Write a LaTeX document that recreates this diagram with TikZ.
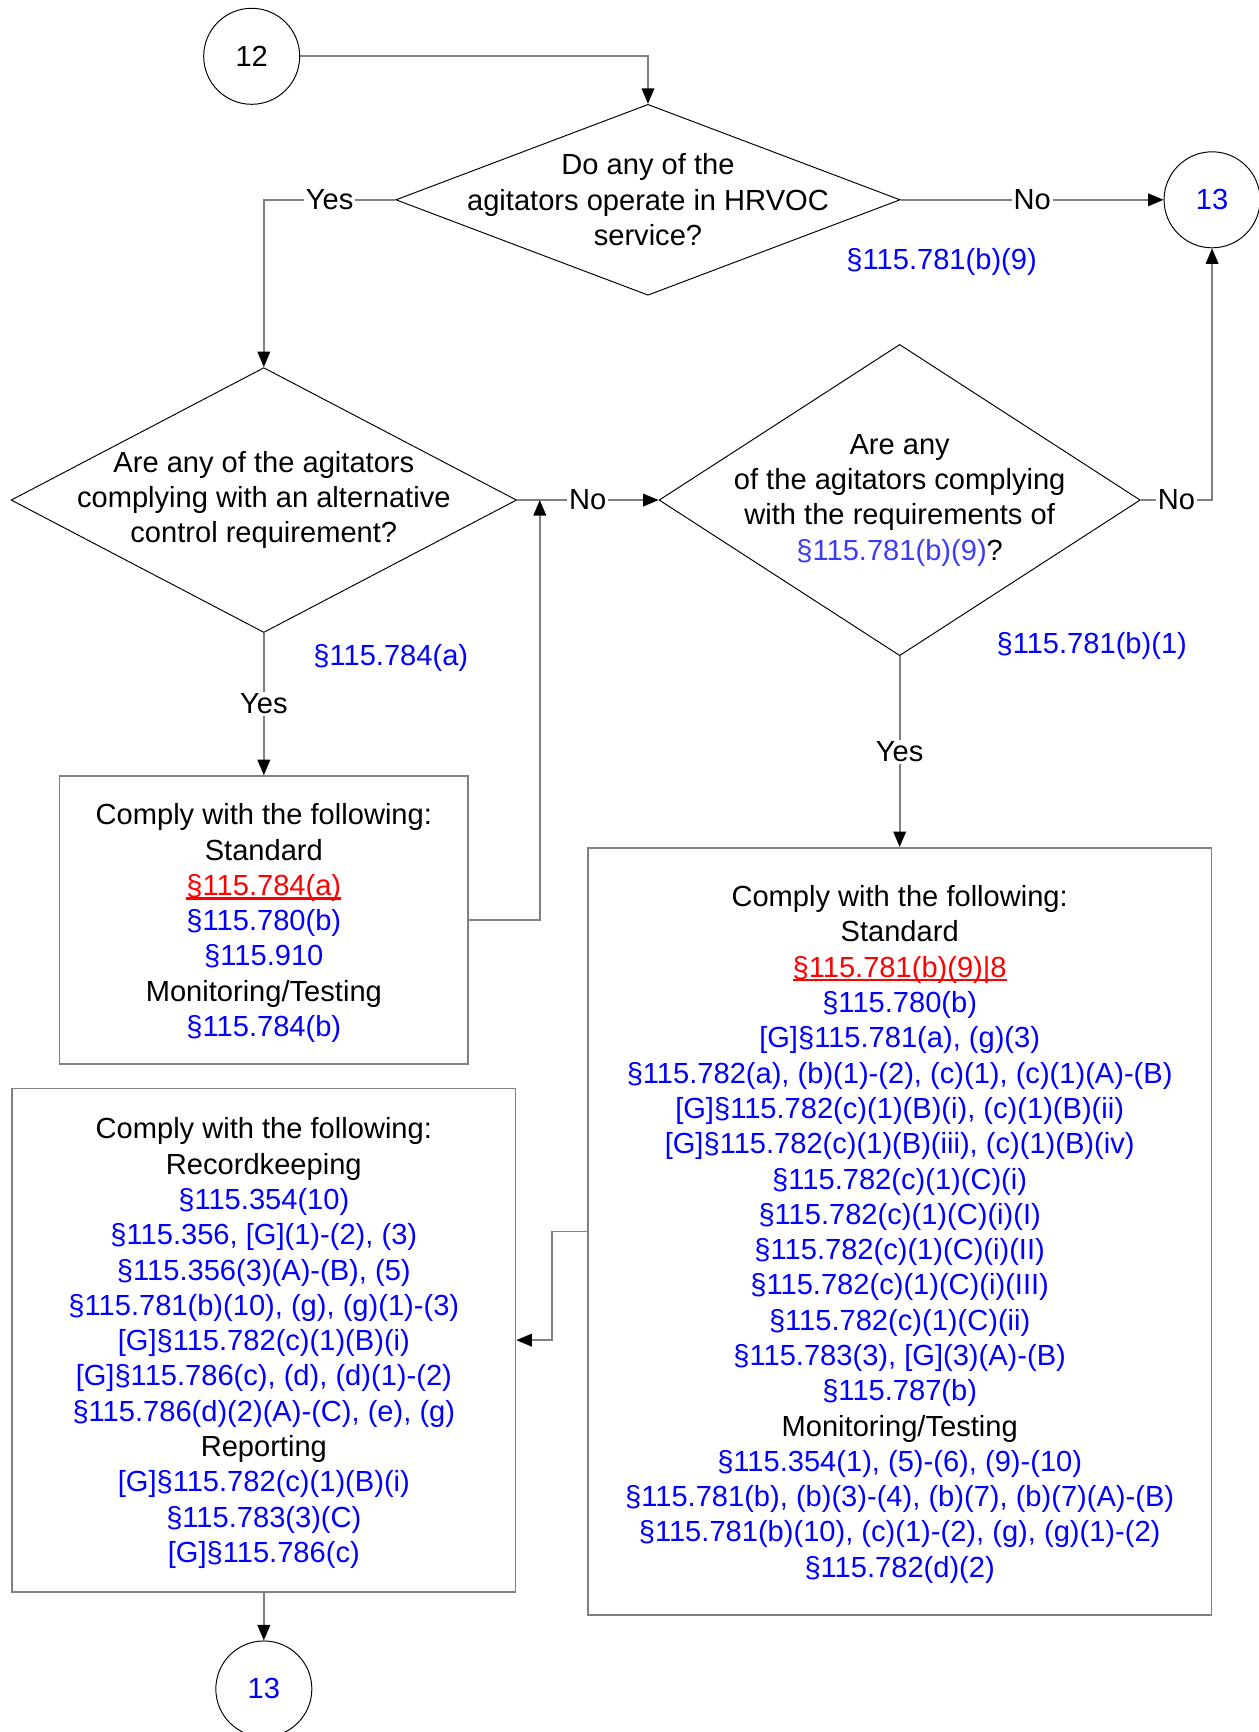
\documentclass[tikz,border=0pt]{standalone}
\usepackage{fontspec}
\setmainfont{Liberation Sans}
\usetikzlibrary{shapes.geometric, arrows.meta, positioning}
\definecolor{RuleBlue}{HTML}{0000FF}
\definecolor{CiteBlue}{HTML}{3C3CF5}
\definecolor{RuleRed}{HTML}{FF0000}
\definecolor{FlowGrey}{HTML}{808080}
\newcommand{\sect}[1]{\textcolor{RuleBlue}{#1}}
\newcommand{\redsect}[1]{\textcolor{RuleRed}{\setbox0\hbox{#1}\rlap{\rule[-2.2pt]{\wd0}{1.1pt}}\box0}}

\begin{document}
\begin{tikzpicture}[
        x=0.02cm, y=-0.02cm,
        font=\fontsize{15}{18.2}\selectfont,
        % Conectores de pagina
        pagecircle/.style={
                circle,
                draw=black,
                line width=0.5pt,
                minimum size=1.74cm,
                inner sep=0pt
            },
        % Rombos de decision
        decisionbox/.style={
                diamond,
                draw=black,
                line width=0.5pt,
                inner sep=0pt
            },
        % Cajas de requisitos
        reqbox/.style={
                rectangle,
                draw=FlowGrey,
                line width=0.85pt,
                align=center,
                text depth=0pt,
                inner sep=0pt
            },
        % Flechas
        flow/.style={
                draw=FlowGrey,
                line width=0.85pt,
                -{Triangle[length=8pt,width=6.5pt,color=black]}
            },
        answer/.style={fill=white, inner sep=1pt, text=black},
        cite/.style={text=RuleBlue, inner sep=0pt}
    ]

    \useasboundingbox (0,0) rectangle (1140,1569);

    % CONECTORES
    \node[pagecircle] (c12) at (228,51) {12};
    \node[pagecircle, text=RuleBlue] (c13a) at (1098,181) {13};
    \node[pagecircle, text=RuleBlue] (c13b) at (239,1530) {13};

    % DECISIONES
    \node[decisionbox, minimum width=9.14cm, minimum height=3.46cm,
        label={[align=center]center:Do any of the\\agitators operate in HRVOC\\service?}] (hrvoc) at (587,181) {};
    \node[decisionbox, minimum width=9.16cm, minimum height=4.8cm,
        label={[align=center]center:Are any of the agitators\\complying with an alternative\\control requirement?}] (altctl) at (239,453) {};
    \node[decisionbox, minimum width=8.72cm, minimum height=5.64cm,
        label={[align=center]center:Are any\\of the agitators complying\\with the requirements of\\\textcolor{CiteBlue}{§115.781(b)(9)}?}] (bnine) at (815,453) {};

    \node[cite] (citehrvoc) at (853,237) {§115.781(b)(9)};
    \node[cite] (citealt) at (354,596) {§115.784(a)};
    \node[cite] (citebnine) at (989,585) {§115.781(b)(1)};

    % REQUISITOS
    \node[reqbox, minimum width=7.4cm, minimum height=5.22cm] (altreq) at (239,833.5) {
        Comply with the following:\\
        Standard\\
        \redsect{§115.784(a)}\\
        \sect{§115.780(b)}\\
        \sect{§115.910}\\
        Monitoring/Testing\\
        \sect{§115.784(b)}
    };

    \node[reqbox, minimum width=11.3cm, minimum height=13.9cm] (stdreq) at (815,1115.5) {
        Comply with the following:\\
        Standard\\
        \redsect{§115.781(b)(9)|8}\\
        \sect{§115.780(b)}\\
        \sect{[G]§115.781(a), (g)(3)}\\
        \sect{§115.782(a), (b)(1)-(2), (c)(1), (c)(1)(A)-(B)}\\
        \sect{[G]§115.782(c)(1)(B)(i), (c)(1)(B)(ii)}\\
        \sect{[G]§115.782(c)(1)(B)(iii), (c)(1)(B)(iv)}\\
        \sect{§115.782(c)(1)(C)(i)}\\
        \sect{§115.782(c)(1)(C)(i)(I)}\\
        \sect{§115.782(c)(1)(C)(i)(II)}\\
        \sect{§115.782(c)(1)(C)(i)(III)}\\
        \sect{§115.782(c)(1)(C)(ii)}\\
        \sect{§115.783(3), [G](3)(A)-(B)}\\
        \sect{§115.787(b)}\\
        Monitoring/Testing\\
        \sect{§115.354(1), (5)-(6), (9)-(10)}\\
        \sect{§115.781(b), (b)(3)-(4), (b)(7), (b)(7)(A)-(B)}\\
        \sect{§115.781(b)(10), (c)(1)-(2), (g), (g)(1)-(2)}\\
        \sect{§115.782(d)(2)}
    };

    \node[reqbox, minimum width=9.12cm, minimum height=9.12cm] (records) at (239,1214) {
        Comply with the following:\\
        Recordkeeping\\
        \sect{§115.354(10)}\\
        \sect{§115.356, [G](1)-(2), (3)}\\
        \sect{§115.356(3)(A)-(B), (5)}\\
        \sect{§115.781(b)(10), (g), (g)(1)-(3)}\\
        \sect{[G]§115.782(c)(1)(B)(i)}\\
        \sect{[G]§115.786(c), (d), (d)(1)-(2)}\\
        \sect{§115.786(d)(2)(A)-(C), (e), (g)}\\
        Reporting\\
        \sect{[G]§115.782(c)(1)(B)(i)}\\
        \sect{§115.783(3)(C)}\\
        \sect{[G]§115.786(c)}
    };

    % FLECHAS
    \coordinate (join) at (489,453);

    \draw[flow] (c12.east) -| (hrvoc.north);
    \draw[flow] (hrvoc.east) -- node[answer] {No} (c13a.west);
    \draw[flow] (hrvoc.west) -| node[answer, pos=0.25] {Yes} (altctl.north);
    \draw[flow] (altctl.south) -- node[answer] {Yes} (altreq.north);
    \draw[flow] (altctl.east) -- node[answer] {No} (bnine.west);
    \draw[flow] (altreq.east) -| (join);
    \draw[flow] (bnine.east) -| node[answer, pos=0.25] {No} (c13a.south);
    \draw[flow] (bnine.south) -- node[answer] {Yes} (stdreq.north);
    \draw[flow] (stdreq.west) -- ++(-32,0) |- (records.east);
    \draw[flow] (records.south) -- (c13b.north);

\end{tikzpicture}
\end{document}
